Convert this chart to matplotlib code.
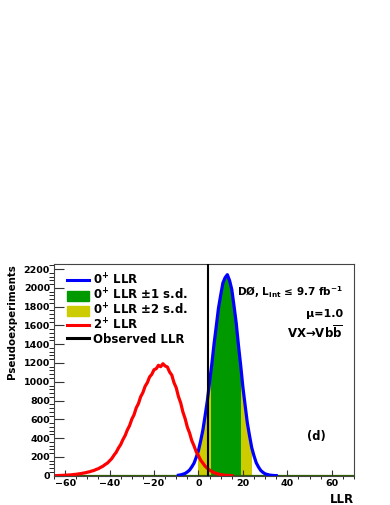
import numpy as np
import matplotlib
matplotlib.use("Agg")
from matplotlib import pyplot as plt
from matplotlib.ticker import MultipleLocator
from matplotlib.lines import Line2D
from matplotlib.patches import Patch

plt.rcParams['font.family'] = ['DejaVu Sans']
plt.rcParams['font.weight'] = 'bold'
plt.rcParams['mathtext.fontset'] = 'dejavusans'
plt.rcParams['mathtext.default'] = 'bf'

# 2+ LLR pseudoexperiments, 1-unit bins starting at LLR = -64
red_start = -64
red_llr = [1, 2, 3, 4, 5, 7, 8, 10, 13, 15, 19, 22, 27, 31, 37, 42, 50, 56, 67, 75,
           89, 101, 119, 134, 158, 183, 219, 250, 295, 331, 384, 427, 487, 533, 601,
           648, 722, 768, 841, 885, 952, 991, 1051, 1079, 1128, 1139, 1175, 1160, 1192,
           1168, 1158, 1104, 1071, 990, 936, 842, 776, 678, 608, 517, 455, 373, 318,
           255, 213, 165, 134, 101, 80, 59, 46, 32, 25, 17, 12, 8, 5, 3, 2, 1]

# 0+ LLR pseudoexperiments, 1-unit bins starting at LLR = -9
blue_start = -9
blue_llr = [5, 9, 16, 24, 40, 60, 94, 133, 196, 268, 372, 487, 640, 798, 995, 1185,
            1400, 1588, 1782, 1922, 2052, 2108, 2140, 2078, 1982, 1808, 1624, 1390,
            1175, 942, 750, 562, 424, 296, 211, 138, 93, 57, 36, 20, 13, 7, 4, 2, 1]

one_sd = (5.6, 19.1)
two_sd = (-0.3, 24.3)
observed = 4.4

red_x = red_start + np.arange(len(red_llr))
blue_x = blue_start + np.arange(len(blue_llr))
blue_edges = blue_start - 0.5 + np.arange(len(blue_llr) + 1)
blue_vals = np.array(blue_llr)


def band(lo, hi):
    keep = (blue_edges[1:] > lo) & (blue_edges[:-1] < hi)
    idx = np.where(keep)[0]
    edges = np.clip(blue_edges[idx[0]:idx[-1] + 2], lo, hi)
    return blue_vals[idx], edges


fig = plt.figure(figsize=(3.9, 5.05), dpi=100)
ax = fig.add_axes([0.1385, 0.058, 0.7692, 0.4186])

v2, e2 = band(*two_sd)
ax.stairs(v2, e2, fill=True, color='#cccc00', zorder=1)
v1, e1 = band(*one_sd)
ax.stairs(v1, e1, fill=True, color='#009900', zorder=1.1)

ax.axhline(0, color='#2f5f00', lw=1.6, zorder=1.2)
ax.plot(blue_x, blue_llr, color='#0000ff', lw=2.3, zorder=2)
ax.plot(red_x, red_llr, color='#ff0000', lw=2.3, zorder=2.1)
ax.axvline(observed, color='black', lw=1.5, zorder=3)

ax.set_xlim(-65, 70)
ax.set_ylim(0, 2250)
ax.xaxis.set_major_locator(MultipleLocator(20))
ax.xaxis.set_minor_locator(MultipleLocator(5))
ax.yaxis.set_major_locator(MultipleLocator(200))
ax.yaxis.set_minor_locator(MultipleLocator(40))
ax.tick_params(direction='in', labelsize=6.8, colors='#333333', labelcolor='black')
ax.xaxis.set_tick_params(which='major', length=4, pad=2.6)
ax.xaxis.set_tick_params(which='minor', length=2)
ax.yaxis.set_tick_params(which='major', length=7, pad=2.9)
ax.yaxis.set_tick_params(which='minor', length=3.5)
for lab in ax.get_xticklabels() + ax.get_yticklabels():
    lab.set_fontweight('bold')
for sp in ax.spines.values():
    sp.set_color('#444444')
    sp.set_linewidth(0.8)

ax.set_ylabel('Pseudoexperiments', fontsize=7.4, fontweight='bold', loc='top')
ax.yaxis.set_label_coords(-0.123, 1.0)
ax.set_xlabel('LLR', fontsize=8.5, fontweight='bold', loc='right')
ax.xaxis.set_label_coords(1.0, -0.082)

handles = [Line2D([], [], color='#0000ff', lw=2.2),
           Patch(color='#009900'),
           Patch(color='#cccc00'),
           Line2D([], [], color='#ff0000', lw=2.2),
           Line2D([], [], color='black', lw=2.2)]
labels = [r'0$^{+}$ LLR', r'0$^{+}$ LLR $\pm$1 s.d.', r'0$^{+}$ LLR $\pm$2 s.d.',
          r'2$^{+}$ LLR', 'Observed LLR']
ax.legend(handles, labels, loc='upper left', bbox_to_anchor=(0.043, 0.962),
          frameon=False, borderpad=0, borderaxespad=0, handlelength=1.9,
          handleheight=0.9, handletextpad=0.3, labelspacing=-0.02,
          prop={'size': 8.5, 'weight': 'bold'})

ax.text(0.963, 0.870, r'DØ, L$_{int}$ ≤ 9.7 fb$^{-1}$', transform=ax.transAxes,
        ha='right', va='center', fontsize=7.5, fontweight='bold')
ax.text(0.963, 0.765, 'μ=1.0', transform=ax.transAxes,
        ha='right', va='center', fontsize=8.0, fontweight='bold')
ax.text(0.963, 0.675, r'VX→Vb$\overline{b}$', transform=ax.transAxes,
        ha='right', va='center', fontsize=8.5, fontweight='bold')
ax.text(0.876, 0.184, '(d)', transform=ax.transAxes,
        ha='center', va='center', fontsize=8.3, fontweight='bold')

fig.savefig('out.png', dpi=100)
